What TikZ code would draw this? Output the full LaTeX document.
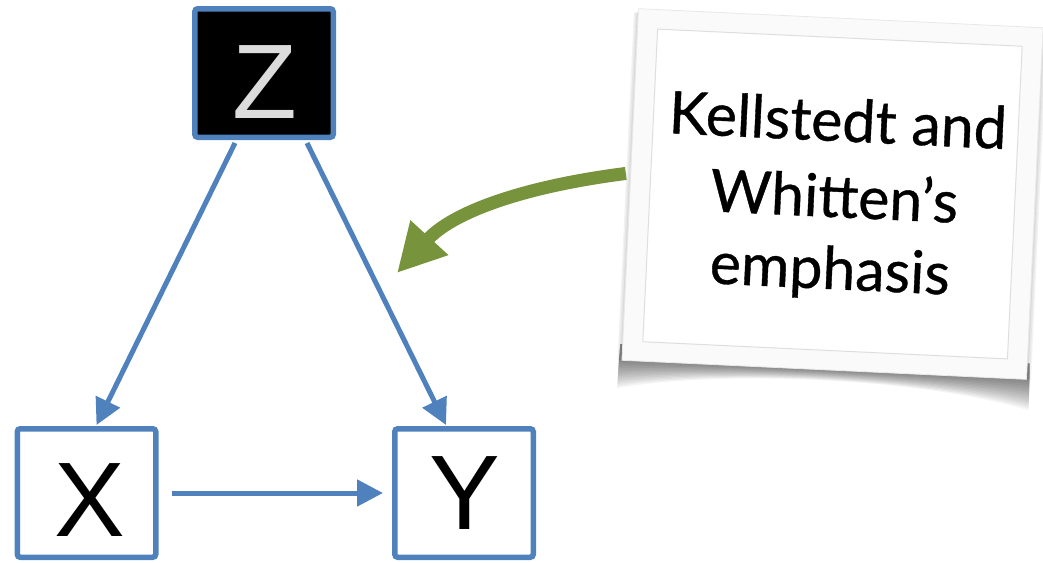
\documentclass[tikz,border=0pt]{standalone}
\usepackage{fontspec}
\setmainfont{Liberation Sans}
\newfontfamily\notefont[FakeBold=0.6]{Lato}
\usetikzlibrary{arrows.meta}
\definecolor{edgeblue}{HTML}{4F81BD}
\definecolor{leafgreen}{HTML}{77933C}
\definecolor{letgray}{HTML}{DCDCDC}
\definecolor{cardrim}{HTML}{FAFAFA}
\tikzset{
  varbox/.style={draw=edgeblue, line width=5.5pt, rounded corners=3pt,
    minimum width=138.5pt, minimum height=128.5pt, inner sep=0pt},
  bigletter/.style={font=\fontsize{106}{106}\selectfont, inner sep=0pt},
  causal/.style={draw=edgeblue, line width=5pt,
    -{Triangle[length=26pt, width=26pt]}},
  pointer/.style={draw=leafgreen, line width=13pt,
    -{Triangle[length=48pt, width=48pt]}},
  card/.style={fill=cardrim, draw=black!9, line width=0.8pt,
    minimum width=405pt, minimum height=352pt, transform shape},
  cardline/.style={draw=black!13, fill=white, line width=1pt},
  cardtext/.style={font=\notefont\fontsize{59}{75}\selectfont,
    anchor=base, inner sep=0pt, transform shape},
}
\begin{document}
\begin{tikzpicture}[x=1pt, y=-1pt]
  \useasboundingbox (0,0) rectangle (1043,562);

  % variables
  \node[varbox, fill=black,
        label={[bigletter, text=letgray, xshift=1pt, yshift=-9pt]center:Z}]
        (Z) at (264,73) {};
  \node[varbox, fill=white,
        label={[bigletter, xshift=3pt, yshift=-7pt]center:X}]
        (X) at (86.5,493) {};
  \node[varbox, fill=white,
        label={[bigletter, xshift=1pt, yshift=0pt]center:Y}]
        (Y) at (464,493) {};

  % causal arrows
  \draw[causal] ([xshift=-29pt, yshift=-3pt]Z.south) -- ([xshift=10pt, yshift=1pt]X.north);
  \draw[causal] ([xshift=43pt, yshift=-3pt]Z.south) -- ([xshift=-18pt, yshift=1pt]Y.north);
  \draw[causal] ([xshift=13pt]X.east) -- ([xshift=-9pt]Y.west);

  % the note card, slightly tilted, with a curled shadow
  \begin{scope}[shift={(832.5,194)}, rotate=-2.7]
    \foreach \k in {1,...,14} {
      \fill[black, opacity=0.045]
        (-205,160) -- (205,160)
        -- (206,176+2.2*\k) .. controls (100,176+0.3*\k) and (-100,176+0.3*\k)
        .. (-206,176+2.0*\k) -- cycle;
    }
    \foreach \d in {1.5,3,4.5} {
      \fill[black, opacity=0.05] (-202.5-\d,-172) rectangle (-202,176);
      \fill[black, opacity=0.05] (202,-172) rectangle (202.5+\d,176);
    }
    \node[card] (note) at (0,0) {};
    \draw[cardline] (-182.5,-156.5) rectangle (182.5,156.5);
    \node[cardtext] (t1) at (2,-53) {Kellstedt and};
    \node[cardtext] (t2) at (2,23) {Whitten’s};
    \node[cardtext] (t3) at (1,95) {emphasis};
  \end{scope}

  % pointer from the note
  \draw[pointer] ([xshift=-4pt, yshift=11pt]note.west)
    .. controls (520,187) and (452,213) .. (397,273);
\end{tikzpicture}
\end{document}
